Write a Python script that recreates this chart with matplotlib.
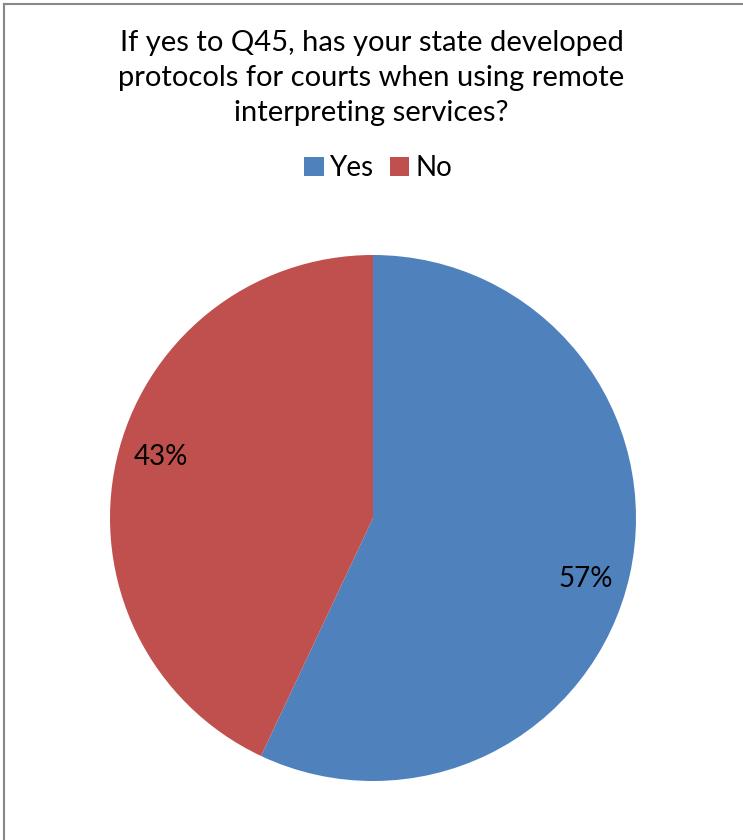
import matplotlib
matplotlib.use('Agg')
import matplotlib.pyplot as plt
import numpy as np
from matplotlib.patches import Patch
from matplotlib.lines import Line2D

# Data
labels = ['Yes', 'No']
values = [57, 43]
colors = ['#4F81BD', '#C0504D']
title = 'If yes to Q45, has your state developed\nprotocols for courts when using remote\ninterpreting services?'

plt.rcParams['font.family'] = ['Lato', 'DejaVu Sans']

W, H = 743, 840
fig = plt.figure(figsize=(W / 100., H / 100.), dpi=100)
fig.patch.set_facecolor('white')

# chart frame (only left and top edges visible in the crop)
fig.add_artist(Line2D([3.5 / W, 3.5 / W], [0, 1 - 3.5 / H], transform=fig.transFigure, color='#888888', lw=1.5))
fig.add_artist(Line2D([3.5 / W, 1], [1 - 3.5 / H, 1 - 3.5 / H], transform=fig.transFigure, color='#888888', lw=1.5))

# Pie
cx, cy, r = 373, 518, 263
ax = fig.add_axes([(cx - r) / W, (H - cy - r) / H, 2 * r / W, 2 * r / H])
wedges, texts, autotexts = ax.pie(values, colors=colors, startangle=90, counterclock=False,
                                  autopct='%d%%', pctdistance=0.84,
                                  wedgeprops={'linewidth': 0},
                                  textprops={'fontsize': 20, 'color': 'black'})
# labels sit slightly clockwise of the wedge middle, as in the original
rot = np.deg2rad(-3.5)
for t in autotexts:
    x, y = t.get_position()
    t.set_position((x * np.cos(rot) - y * np.sin(rot), x * np.sin(rot) + y * np.cos(rot)))
ax.set_aspect('equal')
ax.set_xlim(-1, 1)
ax.set_ylim(-1, 1)

# Title
fig.text(0.5, 1 - 78 / H, title, ha='center', va='center', fontsize=21, linespacing=1.42)

# Legend
handles = [Patch(facecolor=c, edgecolor='none', label=l) for c, l in zip(colors, labels)]
fig.legend(handles=handles, loc='center', bbox_to_anchor=(378. / W, 1 - 168 / H), ncol=2,
           frameon=False, fontsize=20, handlelength=0.7, handleheight=0.7,
           handletextpad=0.2, columnspacing=0.6)

fig.savefig('out.png', dpi=100, facecolor='white')
